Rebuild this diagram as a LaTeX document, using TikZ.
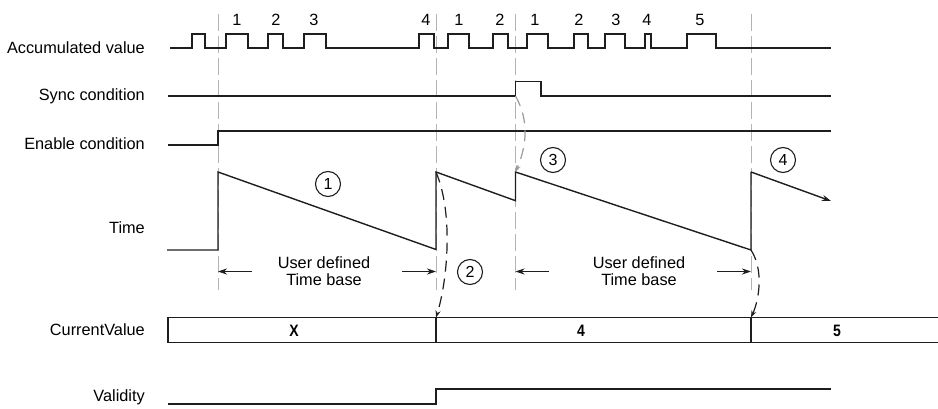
\documentclass[tikz,border=0pt]{standalone}
\usepackage{fontspec}
\setmainfont{Liberation Sans}
\usetikzlibrary{arrows.meta}
\definecolor{sig}{HTML}{1E1E1E}
\definecolor{guide}{HTML}{B4B4B4}
\definecolor{garrow}{HTML}{9A9A9A}
\tikzset{
  sigline/.style={draw=sig, line width=1.4pt, line join=miter},
  guideline/.style={draw=guide, line width=0.9pt, dash pattern=on 17pt off 5pt},
  lbl/.style={anchor=east, inner sep=0pt, font=\fontsize{16.3}{19}\selectfont},
  cnt/.style={inner sep=0pt, font=\fontsize{16.3}{19}\selectfont},
  val/.style={inner sep=0pt, xscale=0.85, font=\fontsize{16.5}{19}\selectfont\bfseries},
  circnum/.style={draw=sig, circle, line width=1.1pt, minimum size=25pt, inner sep=0pt, font=\fontsize{16}{18}\selectfont},
  tbtext/.style={align=center, inner sep=0pt, font=\fontsize{16.3}{17}\selectfont},
  tip/.style={-{Stealth[length=9pt,width=6pt]}},
  dcurve/.style={draw=sig, line width=1.2pt, dash pattern=on 11pt off 7pt, -{Stealth[length=7pt,width=5pt]}},
  gcurve/.style={draw=garrow, line width=1.2pt, dash pattern=on 11pt off 7pt, -{Stealth[length=7pt,width=5pt]}}
}
\begin{document}
\begin{tikzpicture}[x=1pt,y=-1pt]
\useasboundingbox (0,0) rectangle (938,409);
% row labels
\node[lbl] (lacc) at (145,48) {Accumulated value};
\node[lbl] (lsync) at (145,96) {Sync condition};
\node[lbl] (lena) at (145,144) {Enable condition};
\node[lbl] (ltime) at (145,228) {Time};
\node[lbl] (lcv) at (145,330) {CurrentValue};
\node[lbl] (lval) at (145,397) {Validity};
% guide lines
\foreach \gx in {218,436,515.5,751} \draw[guideline] (\gx,14) -- (\gx,290);
% accumulated value pulses
\draw[sigline] (170,48)
  -- (192,48) -- (192,34) -- (205,34) -- (205,48)
  -- (226,48) -- (226,34) -- (248,34) -- (248,48)
  -- (268,48) -- (268,34) -- (283,34) -- (283,48)
  -- (304,48) -- (304,34) -- (326,34) -- (326,48)
  -- (419,48) -- (419,34) -- (434,34) -- (434,48)
  -- (448,48) -- (448,34) -- (469,34) -- (469,48)
  -- (493,48) -- (493,34) -- (508,34) -- (508,48)
  -- (527,48) -- (527,34) -- (548,34) -- (548,48)
  -- (574,48) -- (574,34) -- (588,34) -- (588,48)
  -- (605,48) -- (605,34) -- (625,34) -- (625,48)
  -- (645,48) -- (645,34) -- (651,34) -- (651,48)
  -- (687,48) -- (687,34) -- (716,34) -- (716,48)
  -- (831,48);
\node[cnt] (n1) at (237,20) {1};
\node[cnt] (n2) at (276,20) {2};
\node[cnt] (n3) at (314,20) {3};
\node[cnt] (n4) at (426,20) {4};
\node[cnt] (n5) at (459,20) {1};
\node[cnt] (n6) at (500,20) {2};
\node[cnt] (n7) at (535,20) {1};
\node[cnt] (n8) at (579,20) {2};
\node[cnt] (n9) at (616,20) {3};
\node[cnt] (n10) at (647,20) {4};
\node[cnt] (n11) at (700,20) {5};
% sync condition
\draw[sigline] (168,96) -- (515.5,96) -- (515.5,81.5) -- (541,81.5) -- (541,96) -- (831,96);
% enable condition
\draw[sigline] (168,145) -- (218,145) -- (218,131) -- (831,131);
% time
\coordinate (p1) at (436,172);
\coordinate (b1) at (436,249.5);
\coordinate (p2) at (515.5,172);
\coordinate (b3) at (751,250);
\coordinate (p3) at (751,172);
\coordinate (tend) at (831,201);
\draw[sigline] (167,250) -- (218,250) -- (218,172) -- (b1) -- (p1) -- (515.5,200.7) -- (p2) -- (b3) -- (p3);
\draw[sigline, tip] (p3) -- (tend);
% circled numbers
\node[circnum] (c1) at (328,184) {1};
\node[circnum] (c2) at (470,272) {2};
\node[circnum] (c3) at (553,160) {3};
\node[circnum] (c4) at (783,160) {4};
% time base
\node[tbtext] (tb1) at (324,271.5) {User defined\\Time base};
\node[tbtext] (tb2) at (639,271.5) {User defined\\Time base};
\coordinate (a1l) at (218,271.5);
\coordinate (a1r) at (436,271.5);
\coordinate (a2l) at (515.5,271.5);
\coordinate (a2r) at (751,271.5);
\draw[sigline, line width=1.2pt, tip] (252,271.5) -- (a1l);
\draw[sigline, line width=1.2pt, tip] (402,271.5) -- (a1r);
\draw[sigline, line width=1.2pt, tip] (549,271.5) -- (a2l);
\draw[sigline, line width=1.2pt, tip] (717,271.5) -- (a2r);
% current value bar
\coordinate (cv1) at (436,317.5);
\coordinate (cv2) at (751,317.5);
\draw[sigline] (938,317.5) -- (168,317.5) -- (168,342.5) -- (938,342.5);
\draw[sigline] (cv1) -- (436,342.5);
\draw[sigline] (cv2) -- (751,342.5);
\node[val] (vx) at (294,331) {X};
\node[val] (v4) at (581,331) {4};
\node[val] (v5) at (837,331) {5};
% validity
\draw[sigline] (168,404) -- (436,404) -- (436,389) -- (831,389);
% dashed curved connectors
\draw[dcurve] (p1) .. controls (454,215) and (447,282) .. (cv1);
\draw[dcurve] (b3) .. controls (764,270) and (759,300) .. (cv2);
\coordinate (sr) at (515.5,96);
\draw[gcurve] (sr) .. controls (529,120) and (527,145) .. (p2);
\end{tikzpicture}
\end{document}
